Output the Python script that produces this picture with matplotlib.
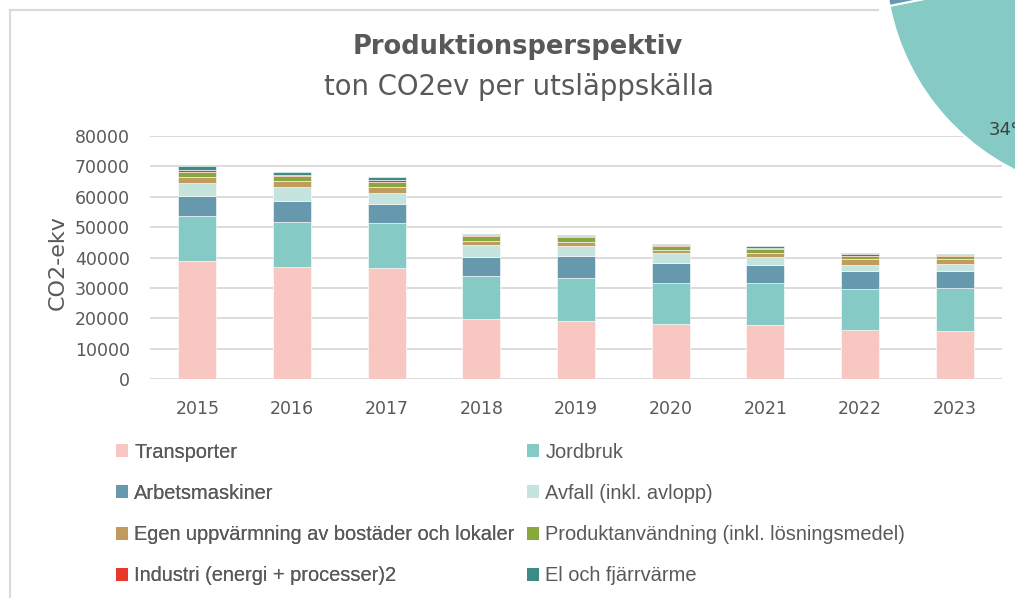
import numpy as np
import matplotlib
matplotlib.use('Agg')
import matplotlib.pyplot as plt
from matplotlib.patches import Patch
from matplotlib.lines import Line2D

# Data (ton CO2ev per source)
years = ['2015', '2016', '2017', '2018', '2019', '2020', '2021', '2022', '2023']
transporter = [39050, 37070, 36740, 19700, 19200, 18100, 18000, 16100, 15800]
jordbruk = [14650, 14700, 14700, 14360, 14250, 13600, 13580, 13610, 14150]
arbetsmaskiner = [6600, 7000, 6250, 6250, 7130, 6690, 6140, 5810, 5810]
avfall = [4170, 4300, 3730, 3950, 3400, 3070, 2630, 2190, 2300]
egen_uppvarmning = [2080, 2000, 1970, 1100, 1200, 1100, 1300, 1750, 1530]
produktanvandning = [1650, 1750, 1530, 1650, 1750, 1200, 1100, 1100, 880]
industri = [650, 450, 550, 450, 150, 550, 450, 550, 550]
el_fjarrvarme = [1310, 900, 1100, 400, 450, 300, 550, 330, 330]

labels = ['Transporter', 'Jordbruk', 'Arbetsmaskiner', 'Avfall (inkl. avlopp)',
          'Egen uppvärmning av bostäder och lokaler',
          'Produktanvändning (inkl. lösningsmedel)',
          'Industri (energi + processer)2', 'El och fjärrvärme']
colors = ['#F8C7C1', '#86CAC6', '#6699AE', '#C5E4DD',
          '#C19A5E', '#86A83F', '#E8382A', '#3C8B85']
series = [transporter, jordbruk, arbetsmaskiner, avfall,
          egen_uppvarmning, produktanvandning, industri, el_fjarrvarme]

W, H = 1015, 598
text_grey = '#595959'
grid_grey = '#D9D9D9'

fig = plt.figure(figsize=(W / 100, H / 100), dpi=100)

# Chart frame (light grey border, partly hidden)
fig.add_artist(Line2D([10 / W, 10 / W], [0, 1 - 10 / H], color=grid_grey, lw=1.5,
                      transform=fig.transFigure))
fig.add_artist(Line2D([10 / W, 878 / W], [1 - 10 / H, 1 - 10 / H], color=grid_grey, lw=1.5,
                      transform=fig.transFigure))

# Main bar chart
ax = fig.add_axes([150 / W, 1 - 379.3 / H, 852 / W, (379.3 - 136) / H])
x = np.arange(len(years))
bottom = np.zeros(len(years))
handles = []
for vals, col, lab in zip(series, colors, labels):
    ax.bar(x, vals, bottom=bottom, width=0.4, color=col, edgecolor='white',
           linewidth=0.4, label=lab, zorder=2)
    bottom += np.array(vals)
    handles.append(Patch(facecolor=col, edgecolor='none', label=lab))

ax.set_xlim(-0.5, len(years) - 0.5)
ax.set_ylim(0, 80000)
ax.set_yticks(np.arange(0, 80001, 10000))
ax.set_xticks(x)
ax.set_xticklabels(years)
ax.yaxis.grid(True, color=grid_grey, lw=1.3, zorder=0)
ax.set_axisbelow(True)
for s in ax.spines.values():
    s.set_visible(False)
ax.tick_params(axis='both', length=0, labelsize=12.5, labelcolor=text_grey)
ax.tick_params(axis='y', pad=14.5)
ax.tick_params(axis='x', pad=15)
ax.set_ylabel('CO2-ekv', fontsize=16, color=text_grey)
ax.yaxis.set_label_coords((68 - 150) / 852, 0.5 - (263 - 257.6) / 243.3)

# Titles
fig.text(518 / W, 1 - 47 / H, 'Produktionsperspektiv', ha='center', va='center',
         fontsize=18.5, fontweight='bold', color=text_grey)
fig.text(519 / W, 1 - 87 / H, 'ton CO2ev per utsläppskälla', ha='center', va='center',
         fontsize=19.8, color=text_grey)

# Legend in two columns (row-wise order)
leg_kw = dict(loc='center left', frameon=False, labelcolor=text_grey,
              handlelength=0.62, handleheight=0.62, handletextpad=0.3,
              labelspacing=1.11, borderpad=0, borderaxespad=0,
              prop={'family': 'Liberation Sans', 'size': 14.4})
leg1 = fig.legend(handles[0::2], labels[0::2], bbox_to_anchor=(116 / W, 1 - 514 / H),
                  **leg_kw)
fig.add_artist(leg1)
fig.legend(handles[1::2], labels[1::2], bbox_to_anchor=(527 / W, 1 - 514 / H), **leg_kw)

# Piece of a neighbouring pie chart (2023 shares) peeking in at top right
pie_ax = fig.add_axes([(1120 - 235) / W, 1 - (-40 + 235) / H, 470 / W, 470 / H])
pie_vals = [s[-1] for s in series]
wedges, _, autotexts = pie_ax.pie(pie_vals, colors=colors, startangle=92, counterclock=False,
                                  autopct='%1.0f%%',
                                  wedgeprops=dict(edgecolor='white', linewidth=1.5),
                                  textprops=dict(fontsize=13, color='#404040'))
for i, t in enumerate(autotexts):
    if i != 1:
        t.set_visible(False)
# label sits where the reference shows it, cut by the right edge as in the original
autotexts[1].set_position((-0.475, -0.725))
pie_ax.set_xlim(-1, 1)
pie_ax.set_ylim(-1, 1)

fig.savefig('out.png', dpi=100)
